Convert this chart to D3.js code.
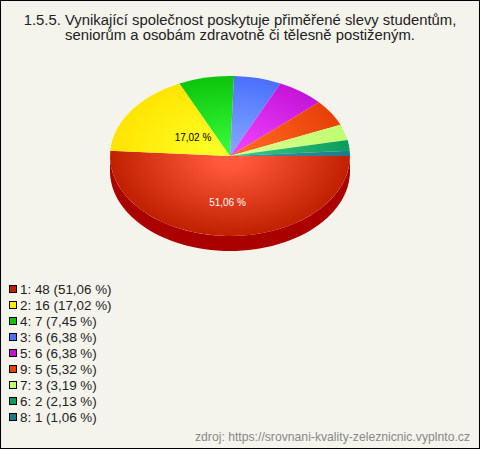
<!DOCTYPE html>
<html><head><meta charset="utf-8">
<script src="https://cdn.jsdelivr.net/npm/d3@7/dist/d3.min.js"></script>
<style>html,body{margin:0;padding:0;background:#f5f4ec}svg{display:block}text{font-family:"Liberation Sans",Arial,sans-serif}</style>
</head><body><svg id="c" width="480" height="449"></svg>
<script>
const categories = ["1","2","4","3","5","9","7","6","8"];
const counts = [48,16,7,6,6,5,3,2,1];
const percents = ["51,06","17,02","7,45","6,38","6,38","5,32","3,19","2,13","1,06"];
const edgeColors = ["#c02000","#ffe400","#0cc40c","#4a70ff","#c414d8","#e84008","#c0ff70","#0c9c5c","#1c7c8c"];
const legendColors = ["#c02000","#ffee00","#0cc40c","#4a70ff","#c414d8","#e84008","#c0ff70","#0c9c5c","#1c7c8c"];
const midColors = ["#ff5a3c","#ffff28","#36f836","#80a4ff","#f040ff","#ff6a20","#d8ff90","#34c880","#4090a8"];
const titleLines = ["1.5.5. Vynikající společnost poskytuje přiměřené slevy studentům,","seniorům a osobám zdravotně či tělesně postiženým."];
const source = "zdroj: https://srovnani-kvality-zeleznicnic.vyplnto.cz";

const W=480,H=449,cx=230,cy=156,rx=120,ry=80,depth=15;
const svg=d3.select("#c");
svg.append("rect").attr("x",.5).attr("y",.5).attr("width",W-1).attr("height",H-1).attr("fill","#f5f4ec").attr("stroke","#000");

svg.selectAll("text.t").data(titleLines).join("text").attr("class","t")
 .attr("x",240).attr("y",(d,i)=>25+i*15).attr("text-anchor","middle").attr("font-size",14.85).attr("fill","#222").text(d=>d);

const pie=d3.pie().value(d=>d).sort(null).startAngle(Math.PI/2).endAngle(Math.PI/2+2*Math.PI);
const arcs=pie(counts);
const arc=d3.arc().innerRadius(0).outerRadius(rx);
const defs=svg.append("defs");
arcs.forEach((a,i)=>{
  const g=defs.append("radialGradient").attr("id","g"+i).attr("gradientUnits","userSpaceOnUse")
    .attr("cx",0).attr("cy",0).attr("r",rx);
  g.append("stop").attr("offset",0.12).attr("stop-color",midColors[i]);
  g.append("stop").attr("offset",1).attr("stop-color",edgeColors[i]);
});
// side wall of the front half
const front=d3.range(0,181,3).map(t=>{const r=t*Math.PI/180;return [cx+rx*Math.cos(r),cy+ry*Math.sin(r)];});
const wallPts=[...front.map(p=>[p[0],p[1]+depth]),...front.slice().reverse()];
svg.append("path").attr("d",d3.line()(wallPts)+"Z").attr("fill","#aa0000");

const pg=svg.append("g").attr("transform",`translate(${cx},${cy}) scale(1,${ry/rx})`);
pg.selectAll("path").data(arcs).join("path").attr("d",arc).attr("fill",(d,i)=>`url(#g${i})`);

const labels=[{i:0,x:227.5,y:206,c:"#fff"},{i:1,x:193,y:141,c:"#000"}];
svg.selectAll("text.l").data(labels).join("text").attr("class","l").attr("x",d=>d.x).attr("y",d=>d.y)
 .attr("text-anchor","middle").attr("font-size",10).attr("fill",d=>d.c).text(d=>percents[d.i]+" %");

const leg=svg.selectAll("g.leg").data(categories).join("g").attr("class","leg")
 .attr("transform",(d,i)=>`translate(0,${289+i*16})`);
leg.append("rect").attr("x",9.5).attr("y",-3.5).attr("width",7).attr("height",7).attr("fill",(d,i)=>legendColors[i]).attr("stroke","#000");
leg.append("text").attr("x",20).attr("y",5).attr("font-size",13.4).attr("fill","#222")
 .text((d,i)=>`${d}: ${counts[i]} (${percents[i]} %)`);

svg.append("text").attr("x",470).attr("y",441).attr("text-anchor","end").attr("font-size",12.2).attr("fill","#888").text(source);
</script></body></html>
